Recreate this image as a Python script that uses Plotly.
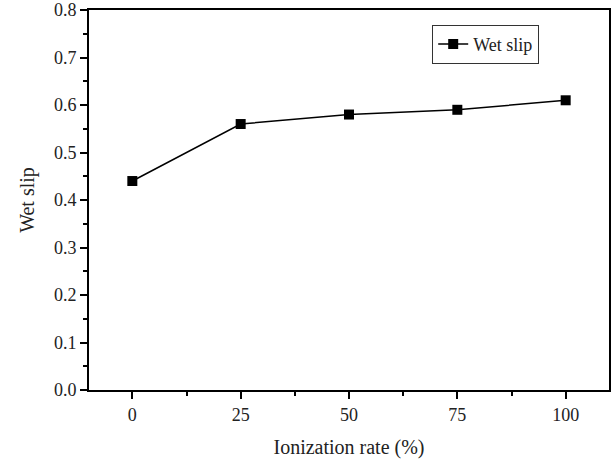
import plotly.graph_objects as go

ionization_rate = [0, 25, 50, 75, 100]
wet_slip = [0.44, 0.56, 0.58, 0.59, 0.61]
x_ticks = [0, 25, 50, 75, 100]
y_ticks = [0.0, 0.1, 0.2, 0.3, 0.4, 0.5, 0.6, 0.7, 0.8]

FONT = "Liberation Serif"

fig = go.Figure()
fig.add_trace(go.Scatter(
    x=ionization_rate, y=wet_slip, mode="lines+markers", name="Wet slip",
    line=dict(color="black", width=1.5),
    marker=dict(symbol="square", size=10, color="black"),
))

fig.update_layout(
    width=613, height=459,
    margin=dict(l=89, r=4, t=10, b=69, autoexpand=False),
    paper_bgcolor="white", plot_bgcolor="white",
    font=dict(family=FONT, size=18, color="#222"),
    showlegend=True,
    legend=dict(x=0.66, y=0.91, xanchor="left", yanchor="middle",
                bordercolor="#333", borderwidth=1, bgcolor="white",
                font=dict(family=FONT, size=18, color="#222"),
                itemwidth=30, tracegroupgap=0),
)
fig.update_xaxes(
    range=[-10, 110], tickvals=x_ticks, ticktext=[str(v) for v in x_ticks],
    showgrid=False, zeroline=False,
    showline=True, linecolor="black", linewidth=2, mirror=True,
    ticks="outside", ticklen=7, tickwidth=2, tickcolor="black",
    minor=dict(ticks="outside", ticklen=4, tickwidth=1.5, tickcolor="black", dtick=12.5, tick0=0),
    title=dict(text="Ionization rate (%)", font=dict(family=FONT, size=20, color="#222"), standoff=16),
    tickfont=dict(family=FONT, size=18, color="#222"),
    ticklabeloverflow="allow", automargin=False,
)
fig.update_yaxes(
    range=[0, 0.8001], tickvals=y_ticks, ticktext=[f"{v:.1f}" for v in y_ticks],
    showgrid=False, zeroline=False,
    showline=True, linecolor="black", linewidth=2, mirror=True,
    ticks="outside", ticklen=7, tickwidth=2, tickcolor="black",
    minor=dict(ticks="outside", ticklen=4, tickwidth=1.5, tickcolor="black", dtick=0.05, tick0=0),
    title=dict(text="Wet slip", font=dict(family=FONT, size=20, color="#222"), standoff=14),
    tickfont=dict(family=FONT, size=18, color="#222"),
    ticklabeloverflow="allow", automargin=False,
)

fig.write_html("out.html")
